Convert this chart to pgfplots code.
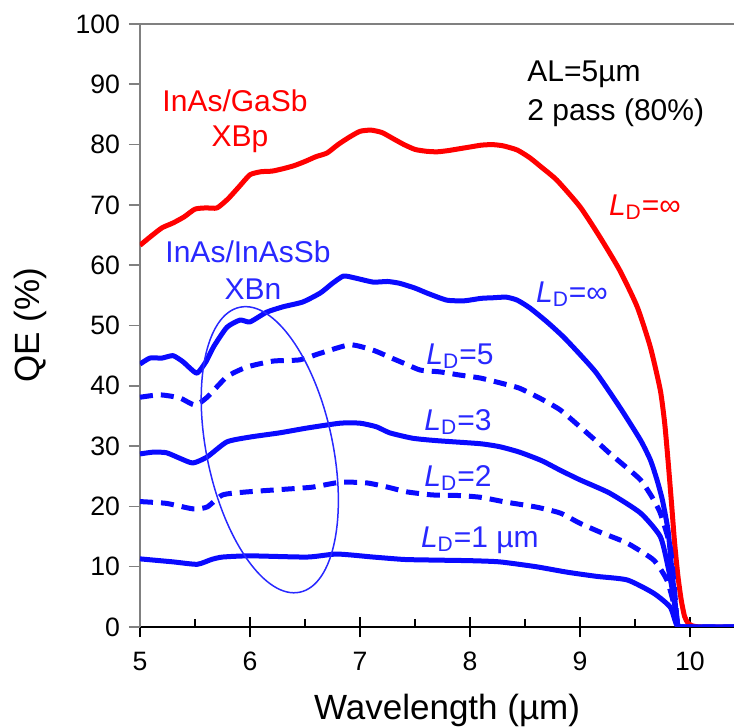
\documentclass[border=0pt]{standalone}
\usepackage{fontspec}
\setmainfont{Liberation Sans}
\usepackage{pgfplots}
\pgfplotsset{compat=1.18}
\definecolor{qred}{RGB}{255,0,0}
\definecolor{qblue}{RGB}{10,10,255}
\definecolor{qtxt}{RGB}{40,40,255}
\definecolor{spine}{RGB}{128,128,128}
\begin{document}
\begin{tikzpicture}
% axis carrying only the x ticks (centre aligned)
\begin{axis}[
  scale only axis, width=297bp, height=301.5bp,
  xmin=5, xmax=10.4, ymin=0, ymax=100,
  axis x line*=bottom, axis y line=none,
  x axis line style={draw=none},
  ytick=\empty,
  xtick={5,6,...,10}, xticklabels={},
  minor x tick num=1,
  tick align=center,
  major tick length=10bp, minor tick length=4bp,
  every tick/.style={black, line width=0.7bp},
  minor x tick style={yshift=2bp},
]
\end{axis}
\begin{axis}[
  scale only axis, width=297bp, height=301.5bp,
  xmin=5, xmax=10.4, ymin=0, ymax=100,
  axis x line*=bottom, axis y line*=left,
  x axis line style={black, line width=0.7bp, -},
  y axis line style={spine, line width=1bp, -},
  xtick={5,6,...,10},
  ytick={0,10,...,100},
  xtick style={draw=none},
  ytick style={spine, line width=0.8bp},
  tick align=outside, major tick length=5.5bp,
  /pgf/number format/assume math mode=true,
  tick label style={font=\fontsize{13.3bp}{15bp}\selectfont, text=black},
  xticklabel style={yshift=-3.5bp},
  yticklabel style={xshift=-1bp},
  xlabel={Wavelength (µm)},
  ylabel={QE (\%)},
  label style={font=\fontsize{17.5bp}{20bp}\selectfont},
  xlabel style={at={(axis description cs:0.517,-0.138)}, anchor=center},
  ylabel style={at={(axis description cs:-0.185,0.5)}, anchor=center, rotate=0},
  clip=true,
  every axis plot/.append style={smooth, tension=0.35, line join=round},
]
\draw[spine, line width=1bp] (axis cs:5,100) -- (axis cs:10.4,100);
% InAs/GaSb XBp, L_D = infinity
\addplot[qred, line width=2.5bp] coordinates {
(5.00,63.3) (5.10,64.8) (5.20,66.2) (5.30,67.0) (5.40,68.0) (5.50,69.3)
(5.60,69.5) (5.70,69.5) (5.80,71.0) (5.90,73.0) (6.00,75.0) (6.10,75.5)
(6.20,75.6) (6.30,76.0) (6.40,76.5) (6.50,77.2) (6.60,78.0) (6.70,78.6)
(6.80,80.0) (6.90,81.2) (7.00,82.2) (7.10,82.4) (7.20,82.0) (7.30,81.0)
(7.40,80.0) (7.50,79.2) (7.60,78.9) (7.70,78.8) (7.80,79.0) (7.90,79.3)
(8.00,79.6) (8.10,79.9) (8.20,80.0) (8.30,79.8) (8.43,79.1) (8.545,77.8)
(8.66,76.1) (8.79,74.1) (9.00,69.7) (9.18,64.7) (9.36,59.2) (9.52,53.1)
(9.64,46.4) (9.73,39.3) (9.77,33.8) (9.80,27.7) (9.83,21.0) (9.86,14.0)
(9.89,8.5) (9.92,4.5) (9.95,1.8) (9.98,0.7) (10.02,0.2) (10.10,0) (10.40,0)
};
% L_D = infinity (XBn)
\addplot[qblue, line width=2.5bp] coordinates {
(5.00,43.6) (5.09,44.6) (5.20,44.6) (5.30,45.0) (5.39,44.0) (5.45,43.0)
(5.52,42.1) (5.60,44.0) (5.67,46.5) (5.79,49.7) (5.91,50.9) (6.00,50.6)
(6.15,52.2) (6.30,53.1) (6.48,53.9) (6.64,55.4) (6.75,57.0) (6.85,58.2)
(6.95,57.9) (7.12,57.2) (7.25,57.3) (7.36,57.0) (7.50,56.2) (7.62,55.3)
(7.79,54.2) (7.95,54.1) (8.10,54.5) (8.21,54.6) (8.33,54.7) (8.43,54.2)
(8.545,52.9) (8.70,50.6) (8.85,48.1) (9.00,45.2) (9.15,42.1) (9.36,36.5)
(9.55,31.0) (9.64,27.7) (9.70,24.4) (9.75,21.0) (9.80,16.1) (9.83,10.5)
(9.86,5.0) (9.89,0.3) (9.95,0) (10.40,0)
};
% L_D = 5
\addplot[qblue, line width=2.5bp, dash pattern=on 6.5bp off 4bp] coordinates {
(5.00,38.1) (5.18,38.5) (5.36,38.0) (5.50,36.8) (5.61,38.1) (5.79,41.5)
(5.97,43.1) (6.21,44.1) (6.45,44.3) (6.64,45.4) (6.91,46.8) (7.12,45.9)
(7.30,44.5) (7.43,43.5) (7.55,42.6) (7.73,42.3) (7.90,41.8) (8.09,41.3)
(8.27,40.5) (8.45,39.6) (8.65,37.8) (8.82,36.0) (9.00,33.2) (9.15,30.8)
(9.27,28.8) (9.42,26.5) (9.55,24.4) (9.65,21.7) (9.73,18.9) (9.82,13.3)
(9.86,6.0) (9.89,0.3) (9.95,0) (10.40,0)
};
% L_D = 3
\addplot[qblue, line width=2.5bp] coordinates {
(5.00,28.7) (5.12,29.0) (5.24,28.9) (5.36,28.0) (5.48,27.2) (5.61,28.2)
(5.79,30.7) (6.00,31.5) (6.27,32.2) (6.52,33.0) (6.82,33.8) (7.00,33.8)
(7.15,33.2) (7.27,32.2) (7.48,31.3) (7.70,30.9) (8.09,30.4) (8.27,29.9)
(8.45,29.0) (8.65,27.6) (8.82,26.0) (9.00,24.4) (9.27,22.2) (9.55,18.9)
(9.73,15.0) (9.80,10.0) (9.85,5.0) (9.89,0.3) (9.95,0) (10.40,0)
};
% L_D = 2
\addplot[qblue, line width=2.5bp, dash pattern=on 6.5bp off 4bp] coordinates {
(5.00,20.8) (5.24,20.5) (5.48,19.6) (5.61,19.9) (5.75,21.9) (5.97,22.4)
(6.36,22.9) (6.57,23.2) (6.82,24.0) (7.06,23.9) (7.25,23.2) (7.43,22.4)
(7.66,21.9) (7.90,21.8) (8.10,21.5) (8.33,20.7) (8.60,19.9) (8.82,18.9)
(9.00,17.2) (9.20,15.6) (9.43,13.9) (9.67,11.1) (9.79,7.8) (9.85,4.0)
(9.89,0.3) (9.95,0) (10.40,0)
};
% L_D = 1 um
\addplot[qblue, line width=2.5bp] coordinates {
(5.00,11.3) (5.30,10.8) (5.52,10.4) (5.65,11.2) (5.75,11.6) (6.00,11.8)
(6.52,11.6) (6.79,12.1) (7.12,11.6) (7.40,11.2) (7.66,11.1) (8.00,11.0)
(8.27,10.8) (8.60,10.0) (8.88,9.1) (9.15,8.4) (9.43,7.8) (9.67,5.6)
(9.82,3.3) (9.88,0.3) (9.95,0) (10.40,0)
};
\coordinate (ec) at (axis cs:6.18,29.4);
% labels
\tikzset{lab/.style={font=\fontsize{15bp}{18bp}\selectfont, inner sep=0pt}}
\node[lab, qred] at (axis cs:5.864,87.2) {InAs/GaSb};
\node[lab, qred] at (axis cs:5.909,80.9) {XBp};
\node[lab, qtxt] at (axis cs:5.982,62.2) {InAs/InAsSb};
\node[lab, qtxt] at (axis cs:6.027,56.05) {XBn};
\node[lab, black, anchor=west] at (axis cs:8.518,91.6) {AL=5µm};
\node[lab, black, anchor=west] at (axis cs:8.518,85.2) {2 pass (80\%)};
\node[lab, qred] at (axis cs:9.59,69.65) {\textit{L}\textsubscript{D}=∞};
\node[lab, qtxt] at (axis cs:8.927,55.2) {\textit{L}\textsubscript{D}=∞};
\node[lab, qtxt] at (axis cs:7.909,44.9) {\textit{L}\textsubscript{D}=5};
\node[lab, qtxt] at (axis cs:7.891,34.0) {\textit{L}\textsubscript{D}=3};
\node[lab, qtxt] at (axis cs:7.891,24.7) {\textit{L}\textsubscript{D}=2};
\node[lab, qtxt] at (axis cs:8.09,14.4) {\textit{L}\textsubscript{D}=1 µm};
\end{axis}
\draw[qtxt, line width=0.75bp, rotate around={11.9:(ec)}] (ec) ellipse [x radius=31.5bp, y radius=72.8bp];
\pgfresetboundingbox
\path[use as bounding box] (-70bp,-50bp) rectangle (297bp,313.5bp);
\end{tikzpicture}
\end{document}
